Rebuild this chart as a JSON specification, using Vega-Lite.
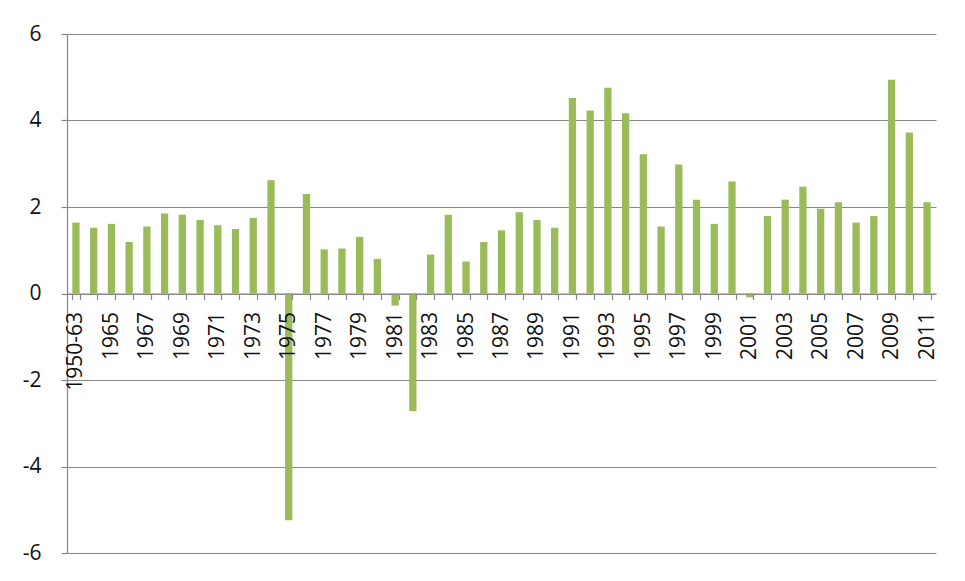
{
  "$schema": "https://vega.github.io/schema/vega-lite/v6.json",
  "width": 869,
  "height": 519,
  "autosize": "none",
  "padding": {"left": 67, "top": 34, "right": 29, "bottom": 28},
  "background": "white",
  "config": {
    "view": {"stroke": null},
    "font": "Open Sans",
    "axis": {
      "labelFont": "Open Sans",
      "labelFontSize": 21,
      "labelColor": "#111111",
      "domainColor": "#878787",
      "tickColor": "#878787",
      "gridColor": "#878787",
      "gridOpacity": 1,
      "domainWidth": 1.2,
      "tickWidth": 1.2,
      "gridWidth": 1.2
    }
  },
  "data": {
    "values": [
      {"period": "1950-63", "value": 1.64},
      {"period": "1964", "value": 1.52},
      {"period": "1965", "value": 1.61},
      {"period": "1966", "value": 1.19},
      {"period": "1967", "value": 1.55},
      {"period": "1968", "value": 1.85},
      {"period": "1969", "value": 1.82},
      {"period": "1970", "value": 1.70},
      {"period": "1971", "value": 1.58},
      {"period": "1972", "value": 1.49},
      {"period": "1973", "value": 1.75},
      {"period": "1974", "value": 2.62},
      {"period": "1975", "value": -5.24},
      {"period": "1976", "value": 2.30},
      {"period": "1977", "value": 1.02},
      {"period": "1978", "value": 1.04},
      {"period": "1979", "value": 1.31},
      {"period": "1980", "value": 0.80},
      {"period": "1981", "value": -0.28},
      {"period": "1982", "value": -2.72},
      {"period": "1983", "value": 0.90},
      {"period": "1984", "value": 1.82},
      {"period": "1985", "value": 0.74},
      {"period": "1986", "value": 1.19},
      {"period": "1987", "value": 1.46},
      {"period": "1988", "value": 1.88},
      {"period": "1989", "value": 1.70},
      {"period": "1990", "value": 1.52},
      {"period": "1991", "value": 4.52},
      {"period": "1992", "value": 4.23},
      {"period": "1993", "value": 4.76},
      {"period": "1994", "value": 4.17},
      {"period": "1995", "value": 3.22},
      {"period": "1996", "value": 1.55},
      {"period": "1997", "value": 2.98},
      {"period": "1998", "value": 2.17},
      {"period": "1999", "value": 1.61},
      {"period": "2000", "value": 2.59},
      {"period": "2001", "value": -0.09},
      {"period": "2002", "value": 1.79},
      {"period": "2003", "value": 2.17},
      {"period": "2004", "value": 2.47},
      {"period": "2005", "value": 1.96},
      {"period": "2006", "value": 2.11},
      {"period": "2007", "value": 1.64},
      {"period": "2008", "value": 1.79},
      {"period": "2009", "value": 4.94},
      {"period": "2010", "value": 3.72},
      {"period": "2011", "value": 2.11}
    ]
  },
  "mark": {"type": "bar", "color": "#9BBB59"},
  "encoding": {
    "x": {
      "field": "period",
      "type": "nominal",
      "sort": null,
      "scale": {"paddingInner": 0.59, "paddingOuter": 0.3},
      "axis": {
        "title": null,
        "offset": -259.5,
        "zindex": 1,
        "labelAngle": -90,
        "labelAlign": "right",
        "labelBaseline": "middle",
        "labelPadding": 12,
        "tickSize": 6,
        "tickBand": "extent",
        "labelOverlap": false,
        "labelExpr": "datum.value == '1950-63' || toNumber(datum.value) % 2 == 1 ? datum.value : ''"
      }
    },
    "y": {
      "field": "value",
      "type": "quantitative",
      "scale": {"domain": [-6, 6], "nice": false},
      "axis": {
        "title": null,
        "values": [-6, -4, -2, 0, 2, 4, 6],
        "tickSize": 6,
        "labelPadding": 20,
        "labelExpr": "'' + datum.value"
      }
    }
  }
}
